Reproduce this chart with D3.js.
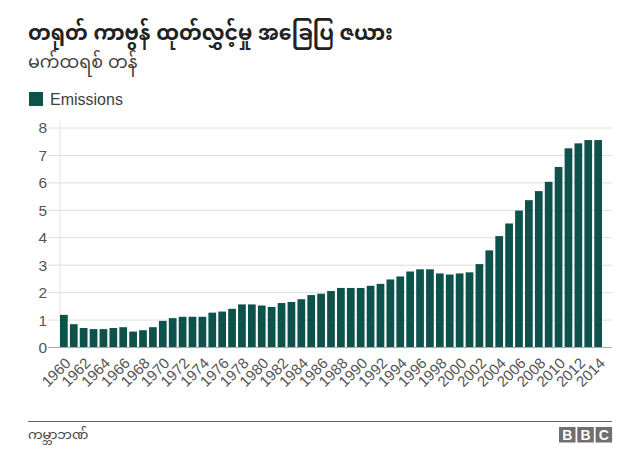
<!DOCTYPE html>
<html>
<head>
<meta charset="utf-8">
<script src="https://cdn.jsdelivr.net/npm/d3@7"></script>
<style>
    body { margin: 0; background: #fff; }
    svg { font-family: "Liberation Sans", Arial, "Noto Sans Myanmar", "Padauk", sans-serif; }
</style>
</head>
<body>
<div id="chart"></div>
<script>
// data (million tonnes, 1960-2014)
const years = d3.range(1960, 2015);
const emissions = [
    1.19, 0.85, 0.71, 0.67, 0.67, 0.71, 0.74, 0.58, 0.63, 0.74,
    0.97, 1.07, 1.12, 1.12, 1.12, 1.27, 1.31, 1.41, 1.57, 1.57,
    1.53, 1.48, 1.62, 1.66, 1.76, 1.91, 1.96, 2.06, 2.17, 2.17,
    2.17, 2.25, 2.32, 2.48, 2.59, 2.77, 2.85, 2.85, 2.70, 2.66,
    2.70, 2.74, 3.04, 3.54, 4.06, 4.52, 4.99, 5.37, 5.70, 6.04,
    6.58, 7.26, 7.44, 7.56, 7.56
];
const yTicks = [0, 1, 2, 3, 4, 5, 6, 7, 8];
const tickYears = years.filter(d => d % 2 === 0);

const titleText = "တရုတ် ကာဗွန် ထုတ်လွှင့်မှု အခြေပြ ဇယား";
const subtitleText = "မက်ထရစ် တန်";
const legendText = "Emissions";
const sourceText = "ကမ္ဘာဘဏ်";

const barColor = "#0d524b";

let width = 640, height = 463;
let margin = {top: 128, right: 28, bottom: 116, left: 60};

let svg = d3.select("#chart").append("svg")
    .attr("width", width)
    .attr("height", height);

// title block
svg.append("text")
    .attr("x", 28).attr("y", 40)
    .attr("font-size", 20.5).attr("font-weight", "bold")
    .attr("fill", "#222")
    .text(titleText);
svg.append("text")
    .attr("x", 28).attr("y", 68)
    .attr("font-size", 17.5)
    .attr("fill", "#404040")
    .text(subtitleText);

// legend
svg.append("rect")
    .attr("x", 29).attr("y", 92)
    .attr("width", 14).attr("height", 14)
    .attr("fill", barColor);
svg.append("text")
    .attr("x", 50).attr("y", 105)
    .attr("font-size", 16)
    .attr("fill", "#404040")
    .text(legendText);

// scales
let x = d3.scaleBand()
    .domain(years)
    .range([margin.left, 602])
    .paddingInner(0.22)
    .paddingOuter(0);

let y = d3.scaleLinear()
    .domain([0, 8])
    .range([347.5, margin.top]);

// gridlines
svg.append("g")
    .selectAll("line")
    .data(yTicks.filter(d => d > 0))
    .enter().append("line")
    .attr("x1", 48).attr("x2", 612)
    .attr("y1", d => y(d)).attr("y2", d => y(d))
    .attr("stroke", "#dedede")
    .attr("stroke-width", 1);

// vertical axis line
svg.append("line")
    .attr("x1", 60).attr("x2", 60)
    .attr("y1", 121).attr("y2", y(0))
    .attr("stroke", "#e2e2e2");

// y tick labels
let yAxis = d3.axisLeft(y)
    .tickValues(yTicks)
    .tickSize(0)
    .tickPadding(0);
let yg = svg.append("g")
    .attr("transform", "translate(48,0)")
    .call(yAxis);
yg.select(".domain").remove();
yg.selectAll("text")
    .attr("font-size", 15.5)
    .attr("font-family", "Liberation Sans, Arial, sans-serif")
    .attr("fill", "#555")
    .attr("dx", -1);

// bars
svg.append("g")
    .selectAll("rect")
    .data(emissions)
    .enter().append("rect")
    .attr("x", (d, i) => x(years[i]))
    .attr("y", d => y(d))
    .attr("width", x.bandwidth())
    .attr("height", d => y(0) - y(d))
    .attr("fill", barColor);

// baseline
svg.append("line")
    .attr("x1", 48).attr("x2", 612)
    .attr("y1", y(0)).attr("y2", y(0))
    .attr("stroke", "#aaaaaa");

// x axis labels
let xAxis = d3.axisBottom(x)
    .tickValues(tickYears)
    .tickSize(0)
    .tickPadding(0);
let xg = svg.append("g")
    .attr("transform", `translate(0, ${y(0)})`)
    .call(xAxis);
xg.select(".domain").remove();
xg.selectAll("text")
    .attr("font-size", 15)
    .attr("font-family", "Liberation Sans, Arial, sans-serif")
    .attr("fill", "#555")
    .attr("text-anchor", "end")
    .attr("dy", "0.35em")
    .attr("transform", "translate(4, 13) rotate(-45)");

// footer
svg.append("line")
    .attr("x1", 28).attr("x2", 612)
    .attr("y1", 421.5).attr("y2", 421.5)
    .attr("stroke", "#666")
    .attr("stroke-width", 1);
svg.append("text")
    .attr("x", 28).attr("y", 439)
    .attr("font-size", 13)
    .attr("fill", "#404040")
    .text(sourceText);

// BBC blocks
let bbc = svg.append("g").attr("transform", "translate(559, 427)");
["B", "B", "C"].forEach((letter, i) => {
    bbc.append("rect")
        .attr("x", i * 18.3).attr("y", 0)
        .attr("width", 16.5).attr("height", 15.5)
        .attr("fill", "#6f6f6f");
    bbc.append("text")
        .attr("x", i * 18.3 + 8.25).attr("y", 13)
        .attr("text-anchor", "middle")
        .attr("font-size", 14)
        .attr("font-weight", "bold")
        .attr("font-family", "Liberation Sans, Arial, sans-serif")
        .attr("fill", "#fff")
        .text(letter);
});
</script>
</body>
</html>
